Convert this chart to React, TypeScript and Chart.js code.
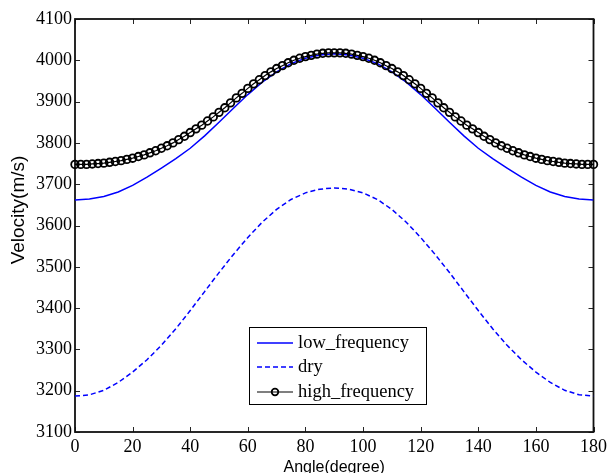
import { useEffect, useRef } from "react";
import { Chart, registerables } from "chart.js";

Chart.register(...registerables);

const X_TITLE = "Angle(degree)";
const Y_TITLE = "Velocity(m/s)";

const X_TICKS = [0, 20, 40, 60, 80, 100, 120, 140, 160, 180];
const Y_TICKS = [3100, 3200, 3300, 3400, 3500, 3600, 3700, 3800, 3900, 4000, 4100];

const ANGLES_COARSE = [
  0, 5, 10, 15, 20, 25, 30, 35, 40, 45, 50, 55, 60, 65, 70, 75, 80, 85, 90,
  95, 100, 105, 110, 115, 120, 125, 130, 135, 140, 145, 150, 155, 160, 165, 170, 175, 180,
];

const LOW_FREQUENCY = [
  3662, 3664, 3670, 3681, 3697, 3717, 3739, 3762, 3787, 3817, 3850, 3884, 3917, 3947, 3972, 3992, 4005, 4013, 4016,
  4013, 4005, 3992, 3972, 3947, 3917, 3884, 3850, 3817, 3787, 3762, 3739, 3717, 3697, 3681, 3670, 3664, 3662,
];

const DRY = [
  3187, 3190, 3201, 3220, 3245, 3275, 3310, 3350, 3394, 3440, 3486, 3530, 3571, 3608, 3639, 3663, 3679, 3688, 3691,
  3688, 3679, 3663, 3639, 3608, 3571, 3530, 3486, 3440, 3394, 3350, 3310, 3275, 3245, 3220, 3201, 3190, 3187,
];

const ANGLES_FINE = [
  0, 2, 4, 6, 8, 10, 12, 14, 16, 18, 20, 22, 24, 26, 28, 30, 32, 34, 36, 38, 40, 42, 44, 46, 48,
  50, 52, 54, 56, 58, 60, 62, 64, 66, 68, 70, 72, 74, 76, 78, 80, 82, 84, 86, 88, 90,
  92, 94, 96, 98, 100, 102, 104, 106, 108, 110, 112, 114, 116, 118, 120, 122, 124, 126, 128,
  130, 132, 134, 136, 138, 140, 142, 144, 146, 148, 150, 152, 154, 156, 158, 160, 162, 164, 166,
  168, 170, 172, 174, 176, 178, 180,
];

const HIGH_FREQUENCY = [
  3748, 3748, 3748, 3749, 3750, 3751, 3753, 3755, 3757, 3760, 3763, 3767, 3771, 3776, 3781, 3787,
  3793, 3800, 3808, 3816, 3825, 3834, 3843, 3853, 3863, 3874, 3885, 3897, 3909, 3920, 3932, 3943,
  3953, 3963, 3972, 3980, 3987, 3994, 4000, 4005, 4009, 4012, 4015, 4017, 4018, 4018,
  4018, 4017, 4015, 4012, 4009, 4005, 4000, 3994, 3987, 3980, 3972, 3963, 3953, 3943, 3932, 3920,
  3909, 3897, 3885, 3874, 3863, 3853, 3843, 3834, 3825, 3816, 3808, 3800, 3793, 3787, 3781, 3776,
  3771, 3767, 3763, 3760, 3757, 3755, 3753, 3751, 3750, 3749, 3748, 3748, 3748,
];

const SERIF = "'Liberation Serif', 'Times New Roman', serif";
const SANS = "'Liberation Sans', Arial, sans-serif";

const axesPlugin = {
  id: "matlabAxes",
  beforeDatasetsDraw(chart: any) {
    const { ctx, chartArea: a, scales } = chart;
    const tl = 5;
    ctx.save();
    ctx.strokeStyle = "#262626";
    ctx.lineWidth = 1;
    ctx.beginPath();
    for (const t of scales.x.ticks) {
      const px = Math.round(scales.x.getPixelForValue(t.value)) + 0.5;
      ctx.moveTo(px, a.bottom);
      ctx.lineTo(px, a.bottom - tl);
      ctx.moveTo(px, a.top);
      ctx.lineTo(px, a.top + tl);
    }
    for (const t of scales.y.ticks) {
      const py = Math.round(scales.y.getPixelForValue(t.value)) + 0.5;
      ctx.moveTo(a.left, py);
      ctx.lineTo(a.left + tl, py);
      ctx.moveTo(a.right, py);
      ctx.lineTo(a.right - tl, py);
    }
    ctx.stroke();
    ctx.strokeStyle = "#111";
    ctx.lineWidth = 1.8;
    ctx.strokeRect(a.left, a.top, a.right - a.left, a.bottom - a.top);
    ctx.restore();
  },
  afterDraw(chart: any) {
    const { ctx, chartArea: a } = chart;
    ctx.save();
    ctx.fillStyle = "#000";
    ctx.textAlign = "center";
    ctx.textBaseline = "middle";
    ctx.font = `16px ${SANS}`;
    ctx.fillText(X_TITLE, (a.left + a.right) / 2, 468);
    ctx.save();
    ctx.translate(19, 210);
    ctx.rotate(-Math.PI / 2);
    ctx.font = `19px ${SANS}`;
    ctx.fillText(Y_TITLE, 0, 0);
    ctx.restore();

    const bx = a.left + 174;
    const by = a.top + 308;
    const bw = 177;
    const bh = 77;
    ctx.fillStyle = "#fff";
    ctx.fillRect(bx, by, bw, bh);
    ctx.strokeStyle = "#000";
    ctx.lineWidth = 1;
    ctx.strokeRect(bx + 0.5, by + 0.5, bw, bh);
    const rows = [16, 40, 65];
    chart.data.datasets.forEach((ds: any, i: number) => {
      const y = by + rows[i];
      ctx.save();
      ctx.strokeStyle = ds.borderColor;
      ctx.lineWidth = ds.borderWidth;
      ctx.setLineDash(ds.borderDash || []);
      ctx.beginPath();
      ctx.moveTo(bx + 8, y);
      ctx.lineTo(bx + 44, y);
      ctx.stroke();
      ctx.setLineDash([]);
      if (ds.pointRadius > 0) {
        ctx.lineWidth = ds.pointBorderWidth;
        ctx.strokeStyle = ds.pointBorderColor;
        ctx.beginPath();
        ctx.arc(bx + 26, y, ds.pointRadius - 0.5, 0, Math.PI * 2);
        ctx.stroke();
      }
      ctx.restore();
      ctx.fillStyle = "#000";
      ctx.font = `18.5px ${SERIF}`;
      ctx.textAlign = "left";
      ctx.textBaseline = "middle";
      ctx.fillText(ds.label, bx + 49, y);
    });
    ctx.restore();
  },
};

export default function App() {
  const ref = useRef<HTMLCanvasElement>(null);
  useEffect(() => {
    const chart = new Chart(ref.current as HTMLCanvasElement, {
      type: "line",
      data: {
        datasets: [
          {
            label: "low_frequency",
            data: ANGLES_COARSE.map((x, i) => ({ x, y: LOW_FREQUENCY[i] })),
            borderColor: "#0000ff",
            borderWidth: 1.5,
            pointRadius: 0,
            tension: 0,
            order: 3,
          },
          {
            label: "dry",
            data: ANGLES_COARSE.map((x, i) => ({ x, y: DRY[i] })),
            borderColor: "#0000ff",
            borderWidth: 1.5,
            borderDash: [5, 3],
            pointRadius: 0,
            tension: 0,
            order: 2,
          },
          {
            label: "high_frequency",
            data: ANGLES_FINE.map((x, i) => ({ x, y: HIGH_FREQUENCY[i] })),
            borderColor: "#000",
            borderWidth: 1.2,
            pointRadius: 3.8,
            pointBorderWidth: 1.8,
            pointBorderColor: "#000",
            pointBackgroundColor: "rgba(0,0,0,0)",
            tension: 0,
            clip: false,
            order: 1,
          } as any,
        ],
      },
      options: {
        responsive: false,
        animation: false,
        devicePixelRatio: 1,
        events: [],
        layout: { padding: { left: 0, right: 16, top: 19, bottom: 0 } },
        plugins: { legend: { display: false }, tooltip: { enabled: false } },
        scales: {
          x: {
            type: "linear",
            min: 0,
            max: 180,
            afterBuildTicks: (s: any) => {
              s.ticks = X_TICKS.map((value) => ({ value }));
            },
            afterFit: (s: any) => {
              s.height = 41;
            },
            grid: { display: false, drawTicks: false },
            border: { display: false },
            ticks: {
              font: { family: SERIF, size: 18 },
              color: "#000",
              padding: 4,
              maxRotation: 0,
              autoSkip: false,
              callback: (v: any) => String(v),
            },
          },
          y: {
            type: "linear",
            min: 3100,
            max: 4100,
            afterBuildTicks: (s: any) => {
              s.ticks = Y_TICKS.map((value) => ({ value }));
            },
            afterFit: (s: any) => {
              s.width = 75;
            },
            grid: { display: false, drawTicks: false },
            border: { display: false },
            ticks: {
              font: { family: SERIF, size: 18 },
              color: "#000",
              padding: 3,
              autoSkip: false,
              callback: (v: any) => String(v),
            },
          },
        },
      },
      plugins: [axesPlugin],
    });
    return () => chart.destroy();
  }, []);
  return (
    <div style={{ position: "absolute", left: 0, top: 0, width: 611, height: 473, background: "#fff" }}>
      <canvas ref={ref} width={611} height={473} style={{ display: "block" }} />
    </div>
  );
}
